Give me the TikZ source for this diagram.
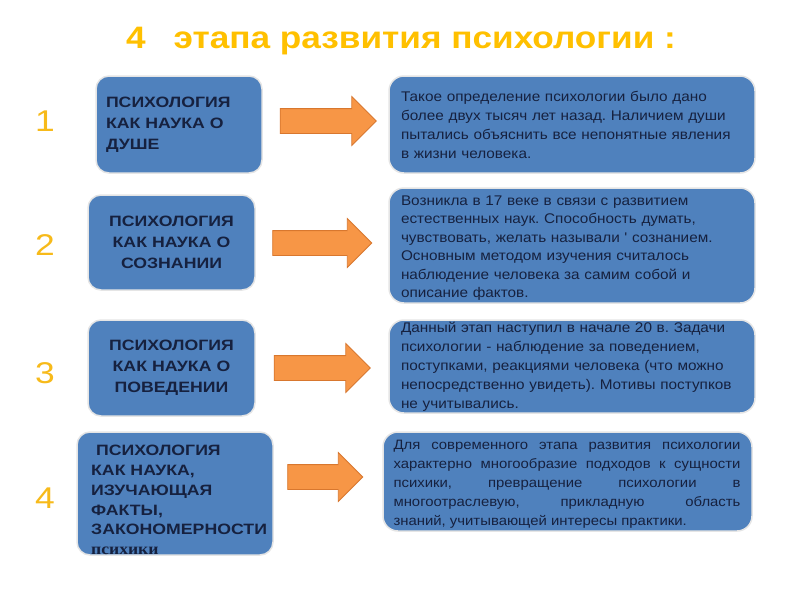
\documentclass[tikz,border=0pt]{standalone}
\usepackage{fontspec}
\setmainfont[FakeStretch=1.18]{Liberation Sans}
\newfontfamily\bodyfont[FakeStretch=1.095]{Liberation Sans}
\newfontfamily\titlefont[FakeStretch=1.135]{Liberation Sans}
\newfontfamily\serifb[FakeStretch=1.1]{Liberation Serif}
\usetikzlibrary{shapes.arrows}
\definecolor{boxblue}{HTML}{4F81BD}
\definecolor{boxtext}{HTML}{16213F}
\definecolor{gold}{HTML}{FFC000}
\definecolor{numgold}{HTML}{F7BA1A}
\definecolor{arrowfill}{HTML}{F79646}
\definecolor{arrowline}{HTML}{D8772E}
\begin{document}
\frenchspacing
\begin{tikzpicture}[x=1pt,y=-1pt,
  leftbox/.style={fill=boxblue, draw=gray!20, line width=1.5pt, rounded corners=13pt,
    text=boxtext, font=\bfseries\fontsize{15}{21}\selectfont, inner sep=0pt},
  rightbox/.style={fill=boxblue, draw=gray!20, line width=1.5pt, rounded corners=15pt,
    text=boxtext, font=\bodyfont\fontsize{14}{19}\selectfont, inner sep=0pt},
  bigarrow/.style={single arrow, fill=arrowfill, draw=arrowline, line width=0.8pt,
    minimum width=48pt, single arrow head extend=12pt, inner sep=0pt,
    text height=24pt, text depth=0pt, text width=0pt},
  num/.style={text=numgold, font=\fontsize{30}{30}\selectfont}
]
\useasboundingbox (0,0) rectangle (800,600);
\fill[white] (0,0) rectangle (800,600);

\node[text=gold, font=\titlefont\bfseries\fontsize{31}{31}\selectfont] (title) at (401,41)
  {4\hspace{0.9em}этапа развития психологии :};

\node[num] (n1) at (45,121) {1};
\node[num] (n2) at (45,245) {2};
\node[num] (n3) at (45,373) {3};
\node[num] (n4) at (45,498) {4};

% left boxes
\node[leftbox, minimum width=166pt, minimum height=97pt, text width=146pt, align=left] (L1) at (179,124.5)
  {ПСИХОЛОГИЯ\\КАК НАУКА О\\ДУШЕ};
\node[leftbox, minimum width=167pt, minimum height=95pt, text width=150pt, align=center] (L2) at (171.5,242.5)
  {ПСИХОЛОГИЯ\\КАК НАУКА О\\СОЗНАНИИ};
\node[leftbox, minimum width=167pt, minimum height=96pt, text width=150pt, align=center] (L3) at (171.5,368)
  {ПСИХОЛОГИЯ\\КАК НАУКА О\\ПОВЕДЕНИИ};
\node[leftbox, minimum width=196pt, minimum height=123pt] (L4) at (175,493.5) {};
\node[anchor=north west, inner sep=0pt, text=boxtext, align=left,
  font=\bfseries\fontsize{15}{19.8}\selectfont] (L4t) at (91,445)
  {\ ПСИХОЛОГИЯ\\КАК НАУКА,\\ИЗУЧАЮЩАЯ\\ФАКТЫ,\\ЗАКОНОМЕРНОСТИ\\{\serifb\fontsize{16}{19.8}\selectfont психики}};

% right boxes
\node[rightbox, minimum width=366pt, minimum height=97pt, text width=342pt, align=left] (R1) at (572,124.5)
  {Такое определение психологии было дано более двух тысяч лет назад. Наличием души пытались объяснить все непонятные явления в жизни человека.};
\node[rightbox, minimum width=366pt, minimum height=115pt] (R2) at (572,245.5) {};
\node[text=boxtext, font=\bodyfont\fontsize{14}{18.5}\selectfont, inner sep=0pt,
  text width=342pt, align=left] (R2t) at (572,248)
  {Возникла в 17 веке в связи с развитием естественных наук. Способность думать, чувствовать, желать называли ' сознанием. Основным методом изучения считалось наблюдение человека за самим собой и описание фактов.};
\node[rightbox, minimum width=366pt, minimum height=93pt, text width=342pt, align=left] (R3) at (572,366.5)
  {Данный этап наступил в начале 20 в. Задачи психологии - наблюдение за поведением, поступками, реакциями человека (что можно непосредственно увидеть). Мотивы поступков не учитывались.};
\node[rightbox, minimum width=369pt, minimum height=99pt] (R4) at (567.5,481.5) {};
\node[text=boxtext, font=\bodyfont\fontsize{13.6}{19}\selectfont, inner sep=0pt,
  text width=347pt, align=justify] (R4t) at (567,484)
  {Для современного этапа развития психологии\linebreak характерно многообразие подходов к сущности\linebreak психики, превращение психологии в\linebreak многоотраслевую, прикладную область\linebreak знаний, учитывающей интересы практики.};

% arrows
\node[bigarrow, minimum height=96pt] (a1) at (322,121) {};
\node[bigarrow, minimum height=99pt] (a2) at (316,243) {};
\node[bigarrow, minimum height=96pt] (a3) at (316,368) {};
\node[bigarrow, minimum height=75pt] (a4) at (319,477) {};
\end{tikzpicture}
\end{document}
